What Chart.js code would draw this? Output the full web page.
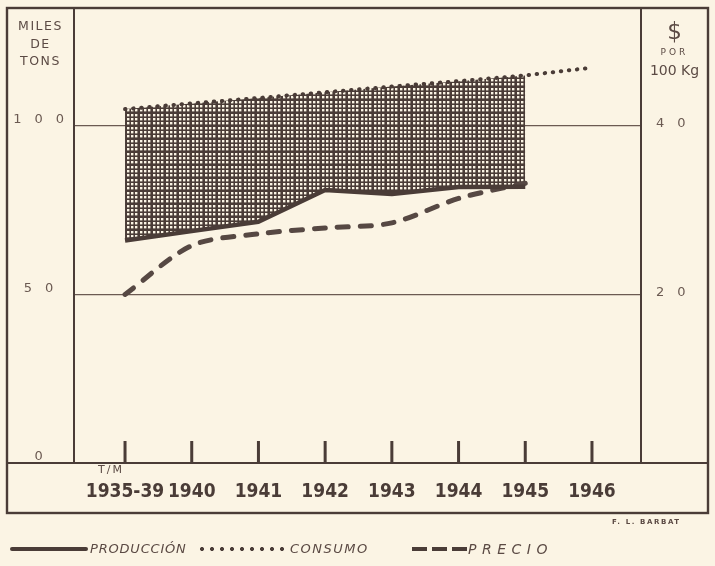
<!DOCTYPE html>
<html><head><meta charset="utf-8">
<script src="https://cdn.jsdelivr.net/npm/chart.js@4.4.1/dist/chart.umd.min.js"></script>
<style>
html,body{margin:0;padding:0;background:#fbf4e4;}
#wrap{position:relative;width:715px;height:566px;overflow:hidden;background:#fbf4e4;}
canvas{position:absolute;left:0;top:0;}
.t{position:absolute;color:#5b4a44;font-family:'DejaVu Sans',sans-serif;white-space:nowrap;}
.c{text-align:center;}
</style></head><body>
<div id="wrap">
<canvas id="c" width="715" height="566"></canvas>
<div class="t c" style="left:7px;width:67px;top:17px;font-size:12.5px;letter-spacing:1.5px;line-height:17.5px;">MILES<br>DE<br>TONS</div>
<div class="t c" style="left:641px;width:67px;top:18px;font-size:23px;line-height:26px;">$</div>
<div class="t c" style="left:641px;width:67px;top:47px;font-size:9px;letter-spacing:3px;line-height:10px;">POR</div>
<div class="t c" style="left:641px;width:67px;top:62px;font-size:14px;line-height:17px;">100 Kg</div>
<div class="t" style="left:98px;top:464px;font-size:11px;letter-spacing:2px;line-height:12px;">T/M</div>
<div class="t" style="left:612px;top:518px;font-size:7px;font-weight:bold;letter-spacing:1.6px;line-height:8px;">F. L. BARBAT</div>
<div style="position:absolute;left:10px;top:547px;width:78px;height:4px;background:#4a3c37;border-radius:2px;"></div>
<div class="t" style="left:90px;top:541px;font-size:13px;font-style:italic;letter-spacing:0.8px;line-height:16px;">PRODUCCIÓN</div>
<div style="position:absolute;left:197px;top:546px;width:92px;height:6px;background:radial-gradient(circle,#4a3c37 1.7px,transparent 2.3px) 0 0/10px 6px repeat-x;"></div>
<div class="t" style="left:290px;top:541px;font-size:13px;font-style:italic;letter-spacing:1.5px;line-height:16px;">CONSUMO</div>
<div style="position:absolute;left:412px;top:547px;width:55px;height:4px;background:repeating-linear-gradient(90deg,#4a3c37 0 15px,transparent 15px 20px);"></div>
<div class="t" style="left:468px;top:541px;font-size:14px;font-style:italic;letter-spacing:5.5px;line-height:16px;">PRECIO</div>
</div>
<script>
const categories = ['1935-39','1940','1941','1942','1943','1944','1945','1946'];
const produccion = [66, 68.8, 71.6, 81, 79.8, 81.9, 82];
const consumo = [105, 106.7, 108.3, 110, 111.7, 113.3, 115, 117.3];
const precio = [20, 25.8, 27.2, 27.9, 28.5, 31.4, 33.2];
const leftTicks = [0, 50, 100];
const rightTicks = [20, 40];

const INK = '#4a3c37';
const TXT = '#5b4a44';
const toXY = arr => arr.map((v, i) => ({x: i, y: v}));

function makePattern() {
  const pos = [1, 5, 10];
  const p = document.createElement('canvas');
  p.width = 13; p.height = 13;
  const g = p.getContext('2d');
  g.fillStyle = '#4a3c37';
  g.fillRect(0, 0, 13, 13);
  g.fillStyle = '#fbf4e4';
  pos.forEach(a => pos.forEach(b => g.fillRect(a, b, 2.4, 2.4)));
  return document.getElementById('c').getContext('2d').createPattern(p, 'repeat');
}

const noPad = s => { s.paddingTop = 0; s.paddingBottom = 0; s.paddingLeft = 0; s.paddingRight = 0; };

const framePlugin = {
  id: 'frame',
  afterDraw(chart) {
    const {ctx, chartArea: a, scales} = chart;
    const L = scales.y.left, R = scales.y1.right, T = a.top, B = scales.x.bottom;
    ctx.save();
    ctx.strokeStyle = INK;
    ctx.lineWidth = 2.4;
    ctx.strokeRect(L, T, R - L, B - T);
    ctx.lineWidth = 2;
    ctx.beginPath();
    ctx.moveTo(a.left, T); ctx.lineTo(a.left, a.bottom);
    ctx.moveTo(a.right, T); ctx.lineTo(a.right, a.bottom);
    ctx.moveTo(L, a.bottom); ctx.lineTo(R, a.bottom);
    ctx.stroke();
    ctx.lineWidth = 3;
    ctx.beginPath();
    categories.forEach((c, i) => {
      const px = scales.x.getPixelForValue(i);
      ctx.moveTo(px, a.bottom - 22); ctx.lineTo(px, a.bottom);
    });
    ctx.stroke();
    ctx.restore();
  }
};

new Chart(document.getElementById('c'), {
  type: 'line',
  data: {
    datasets: [
      {label: 'Producción', data: toXY(produccion), yAxisID: 'y', borderColor: INK, borderWidth: 4.5, pointRadius: 0, fill: false, tension: 0, borderJoinStyle: 'round'},
      {label: 'hatch', data: toXY(consumo.slice(0, produccion.length)), yAxisID: 'y', borderWidth: 0, borderColor: 'rgba(0,0,0,0)', pointRadius: 0, backgroundColor: makePattern(), fill: '-1'},
      {label: 'Consumo', data: toXY(consumo), yAxisID: 'y', borderColor: INK, borderWidth: 4, borderDash: [0.5, 7.6], borderCapStyle: 'round', pointRadius: 0, fill: false},
      {label: 'Precio', data: toXY(precio), yAxisID: 'y1', borderColor: '#564843', borderWidth: 5, borderDash: [11, 12], borderCapStyle: 'round', pointRadius: 0, fill: false, tension: 0.3}
    ]
  },
  options: {
    responsive: false,
    animation: false,
    layout: {padding: {left: 7, right: 7, top: 8, bottom: 53}},
    plugins: {legend: {display: false}, tooltip: {enabled: false}, filler: {drawTime: 'beforeDatasetsDraw'}},
    scales: {
      x: {
        type: 'linear', min: -0.765, max: 7.735,
        afterBuildTicks: s => { s.ticks = categories.map((c, i) => ({value: i})); },
        afterFit: s => { s.height = 50; noPad(s); },
        ticks: {callback: v => categories[v] ?? '', autoSkip: false, maxRotation: 0, padding: 18, color: INK,
          font: {family: "'DejaVu Sans Condensed','DejaVu Sans',sans-serif", size: 19, weight: 'bold'}},
        grid: {display: false, drawTicks: false},
        border: {display: false}
      },
      y: {
        position: 'left', min: 0, max: 135,
        afterBuildTicks: s => { s.ticks = leftTicks.map(v => ({value: v})); },
        afterFit: s => { s.width = 67; noPad(s); },
        ticks: {callback: v => String(v).split('').join('\u2003'), crossAlign: 'center', padding: 10, labelOffset: -6, color: '#6b5a52',
          font: {family: "'DejaVu Sans',sans-serif", size: 13, weight: 'normal'}},
        grid: {color: '#6b5a52', lineWidth: 1.3, drawTicks: false},
        border: {display: false}
      },
      y1: {
        position: 'right', min: 0, max: 54,
        afterBuildTicks: s => { s.ticks = rightTicks.map(v => ({value: v})); },
        afterFit: s => { s.width = 67; noPad(s); },
        ticks: {callback: v => String(v).split('').join('\u2003'), crossAlign: 'center', padding: 15, labelOffset: -2, color: '#6b5a52',
          font: {family: "'DejaVu Sans',sans-serif", size: 13, weight: 'normal'}},
        grid: {display: false, drawTicks: false},
        border: {display: false}
      }
    }
  },
  plugins: [framePlugin]
});
</script>
</body></html>
